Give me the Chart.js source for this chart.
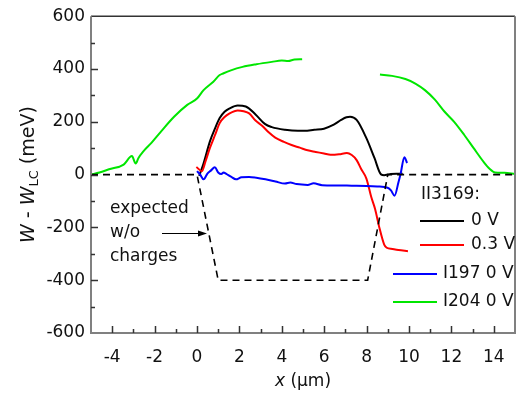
<!DOCTYPE html>
<html>
<head>
<meta charset="utf-8">
<script src="https://cdn.jsdelivr.net/npm/chart.js@4"></script>
<style>
  html, body { margin: 0; padding: 0; background: #fff; }
  #wrap { width: 529px; height: 396px; }
</style>
</head>
<body>
<div id="wrap"><canvas id="chart" width="529" height="396"></canvas></div>
<script>
// values (x in um, W - W_LC in meV)
const xTicks = [-4, -2, 0, 2, 4, 6, 8, 10, 12, 14];
const yTicks = [-600, -400, -200, 0, 200, 400, 600];

const expectedX = [-5, 0, 1, 8.05, 9, 15];
const expectedY = [0, 0, -400, -400, 0, 0];

const blackX = [0.1, 0.3, 0.61, 0.85, 1.07, 1.3, 1.54, 1.92, 2.3, 2.76, 3.2, 3.53, 4.15, 4.76, 5.07, 5.53, 5.99, 6.45, 6.8, 7.05, 7.22, 7.53, 7.99, 8.37, 8.68, 8.83, 9.0, 9.14, 9.4, 9.7];
const blackY = [-5, 40, 126, 175, 214, 238, 251, 262, 258, 228, 192, 180, 170, 166, 166, 170, 174, 189, 207, 217, 219, 207, 138, 63, 1, -2, 0, 2, 3, 3];

const redX = [-0.03, 0.23, 0.4, 0.61, 0.85, 1.07, 1.3, 1.54, 1.92, 2.2, 2.46, 2.76, 3.07, 3.38, 3.69, 4.1, 4.46, 4.85, 5.22, 5.6, 5.99, 6.3, 6.7, 7.07, 7.3, 7.53, 7.75, 7.99, 8.22, 8.4, 8.6, 8.83, 8.95, 9.22, 9.5, 9.95];
const redY = [29, 13, 50, 101, 150, 195, 218, 232, 243, 240, 232, 205, 185, 160, 140, 124, 112, 102, 92, 86, 80, 75, 77, 82, 74, 55, 20, -15, -85, -130, -200, -265, -277, -282, -286, -290];

const blueX = [0.0, 0.15, 0.31, 0.5, 0.65, 0.84, 1.0, 1.15, 1.25, 1.38, 1.6, 1.84, 2.1, 2.46, 2.8, 3.23, 3.7, 4.15, 4.4, 4.7, 5.22, 5.5, 5.9, 6.6, 7.3, 7.99, 8.5, 8.99, 9.15, 9.32, 9.5, 9.6, 9.78, 9.91];
const blueY = [13, 0, -18, 5, 15, 28, 8, 2, 8, 3, -8, -18, -10, -9, -12, -18, -26, -34, -30, -36, -39, -33, -40, -41, -42, -43, -45, -50, -60, -80, -30, 1, 66, 44];

const greenLeftX = [-5, -4.6, -4.15, -3.46, -3.07, -2.89, -2.76, -2.53, -2.15, -1.69, -1.07, -0.46, 0, 0.31, 0.77, 1.07, 1.23, 1.6, 2.15, 2.8, 3.53, 4.0, 4.3, 4.6, 4.96];
const greenLeftY = [0, 8, 20, 38, 70, 42, 63, 88, 120, 164, 220, 264, 288, 320, 352, 377, 383, 395, 408, 418, 427, 432, 430, 436, 437];
const greenRightX = [8.63, 9.2, 9.83, 10.3, 10.75, 11.21, 11.67, 12.13, 12.6, 13.05, 13.52, 13.8, 14.06, 14.5, 15];
const greenRightY = [379, 374, 362, 345, 320, 285, 239, 200, 151, 100, 48, 22, 8, 7, 2];

const legendHeader = 'II3169:';
const legendLabels = ['0 V', '0.3 V', 'I197 0 V', 'I204 0 V'];
const legendColors = ['#000000', '#ff0000', '#0000ff', '#00e600'];
const noteLines = ['expected', 'w/o', 'charges'];

const FONT = '"DejaVu Sans", sans-serif';

function toPoints(xs, ys) {
    return xs.map((x, i) => ({ x: x, y: ys[i] }));
}

function lineSet(label, xs, ys, color, width, dash) {
    return {
        label: label,
        data: toPoints(xs, ys),
        showLine: true,
        borderColor: color,
        borderWidth: width,
        borderDash: dash || [],
        pointRadius: 0,
        tension: dash ? 0 : 0.4,
        cubicInterpolationMode: dash ? 'default' : 'monotone',
        fill: false
    };
}

// frame, inward ticks, axis titles, legend and the note
const decorations = {
    id: 'decorations',
    afterDraw(chart) {
        const ctx = chart.ctx;
        const area = chart.chartArea;
        const xs = chart.scales.x;
        const ys = chart.scales.y;
        ctx.save();

        // box
        ctx.strokeStyle = '#333';
        ctx.lineWidth = 1.5;
        ctx.beginPath();
        ctx.moveTo(area.left, area.top);
        ctx.lineTo(area.right, area.top);
        ctx.stroke();
        ctx.strokeStyle = '#808080';
        ctx.lineWidth = 2;
        ctx.beginPath();
        ctx.moveTo(area.left, area.top);
        ctx.lineTo(area.left, area.bottom);
        ctx.lineTo(area.right, area.bottom);
        ctx.lineTo(area.right, area.top);
        ctx.stroke();

        // ticks pointing inward
        ctx.strokeStyle = '#333';
        ctx.lineWidth = 1.5;
        ctx.beginPath();
        for (let v = -4; v <= 14; v++) {
            const px = Math.round(xs.getPixelForValue(v)) + 0.5;
            const len = v % 2 === 0 ? 7 : 4;
            ctx.moveTo(px, area.bottom);
            ctx.lineTo(px, area.bottom - len);
        }
        for (let v = -500; v <= 500; v += 100) {
            const py = Math.round(ys.getPixelForValue(v)) + 0.5;
            const len = v % 200 === 0 ? 7 : 4;
            ctx.moveTo(area.left, py);
            ctx.lineTo(area.left + len, py);
        }
        ctx.stroke();

        ctx.fillStyle = '#111';

        // x title
        ctx.textBaseline = 'middle';
        ctx.textAlign = 'left';
        const xt = [['x', 'italic 17px ' + FONT], [' (\u03bcm)', '17px ' + FONT]];
        let total = 0;
        xt.forEach(s => { ctx.font = s[1]; total += ctx.measureText(s[0]).width; });
        let cx = (area.left + area.right) / 2 - total / 2;
        xt.forEach(s => { ctx.font = s[1]; ctx.fillText(s[0], cx, 382); cx += ctx.measureText(s[0]).width; });

        // y title, rotated
        ctx.save();
        ctx.translate(29, (area.top + area.bottom) / 2);
        ctx.rotate(-Math.PI / 2);
        const yt = [
            ['W', 'italic 19px ' + FONT, 0],
            [' - ', '19px ' + FONT, 0],
            ['W', 'italic 19px ' + FONT, 0],
            ['LC', '13px ' + FONT, 6],
            [' (meV)', '19px ' + FONT, 0]
        ];
        total = 0;
        yt.forEach(s => { ctx.font = s[1]; total += ctx.measureText(s[0]).width; });
        cx = -total / 2;
        yt.forEach(s => { ctx.font = s[1]; ctx.fillText(s[0], cx, s[2]); cx += ctx.measureText(s[0]).width; });
        ctx.restore();

        // legend
        ctx.font = '17px ' + FONT;
        ctx.textAlign = 'left';
        ctx.fillText(legendHeader, 421, 195);
        const rows = [
            { y: 221, x0: 420, x1: 464, tx: 471 },
            { y: 245, x0: 420, x1: 464, tx: 471 },
            { y: 274, x0: 393, x1: 437, tx: 443 },
            { y: 302, x0: 393, x1: 437, tx: 443 }
        ];
        rows.forEach((r, i) => {
            ctx.strokeStyle = legendColors[i];
            ctx.lineWidth = 2;
            ctx.beginPath();
            ctx.moveTo(r.x0, r.y);
            ctx.lineTo(r.x1, r.y);
            ctx.stroke();
            ctx.fillStyle = '#111';
            ctx.fillText(legendLabels[i], r.tx, r.y);
        });

        // note with arrow
        noteLines.forEach((t, i) => ctx.fillText(t, 110, 209 + i * 24));
        ctx.strokeStyle = '#000';
        ctx.lineWidth = 1.2;
        ctx.beginPath();
        ctx.moveTo(162, 233.5);
        ctx.lineTo(200, 233.5);
        ctx.stroke();
        ctx.fillStyle = '#000';
        ctx.beginPath();
        ctx.moveTo(207, 233.5);
        ctx.lineTo(198, 230.5);
        ctx.lineTo(198, 236.5);
        ctx.closePath();
        ctx.fill();

        ctx.restore();
    }
};

new Chart(document.getElementById('chart').getContext('2d'), {
    type: 'scatter',
    data: {
        datasets: [
            lineSet('expected', expectedX, expectedY, '#000000', 1.6, [7, 5]),
            lineSet('I204 0 V', greenLeftX, greenLeftY, legendColors[3], 2),
            lineSet('I204 0 V', greenRightX, greenRightY, legendColors[3], 2),
            lineSet('I197 0 V', blueX, blueY, legendColors[2], 2),
            lineSet('0.3 V', redX, redY, legendColors[1], 2),
            lineSet('0 V', blackX, blackY, legendColors[0], 2)
        ]
    },
    options: {
        responsive: false,
        animation: false,
        layout: { padding: { top: 13, right: 4, left: 0, bottom: 0 } },
        plugins: {
            legend: { display: false },
            tooltip: { enabled: false }
        },
        scales: {
            x: {
                type: 'linear',
                min: -5,
                max: 15,
                grid: { display: false, drawTicks: false },
                border: { display: false },
                afterFit: s => { s.height = 63; },
                ticks: {
                    stepSize: 1,
                    autoSkip: false,
                    maxRotation: 0,
                    padding: 14,
                    color: '#111',
                    font: { family: FONT, size: 17 },
                    callback: v => xTicks.includes(v) ? String(v) : ''
                }
            },
            y: {
                min: -600,
                max: 600,
                grid: { display: false, drawTicks: false },
                border: { display: false },
                afterFit: s => { s.width = 91; },
                ticks: {
                    stepSize: 100,
                    autoSkip: false,
                    padding: 6,
                    color: '#111',
                    font: { family: FONT, size: 17 },
                    callback: v => yTicks.includes(v) ? String(v) : ''
                }
            }
        }
    },
    plugins: [decorations]
});
</script>
</body>
</html>
